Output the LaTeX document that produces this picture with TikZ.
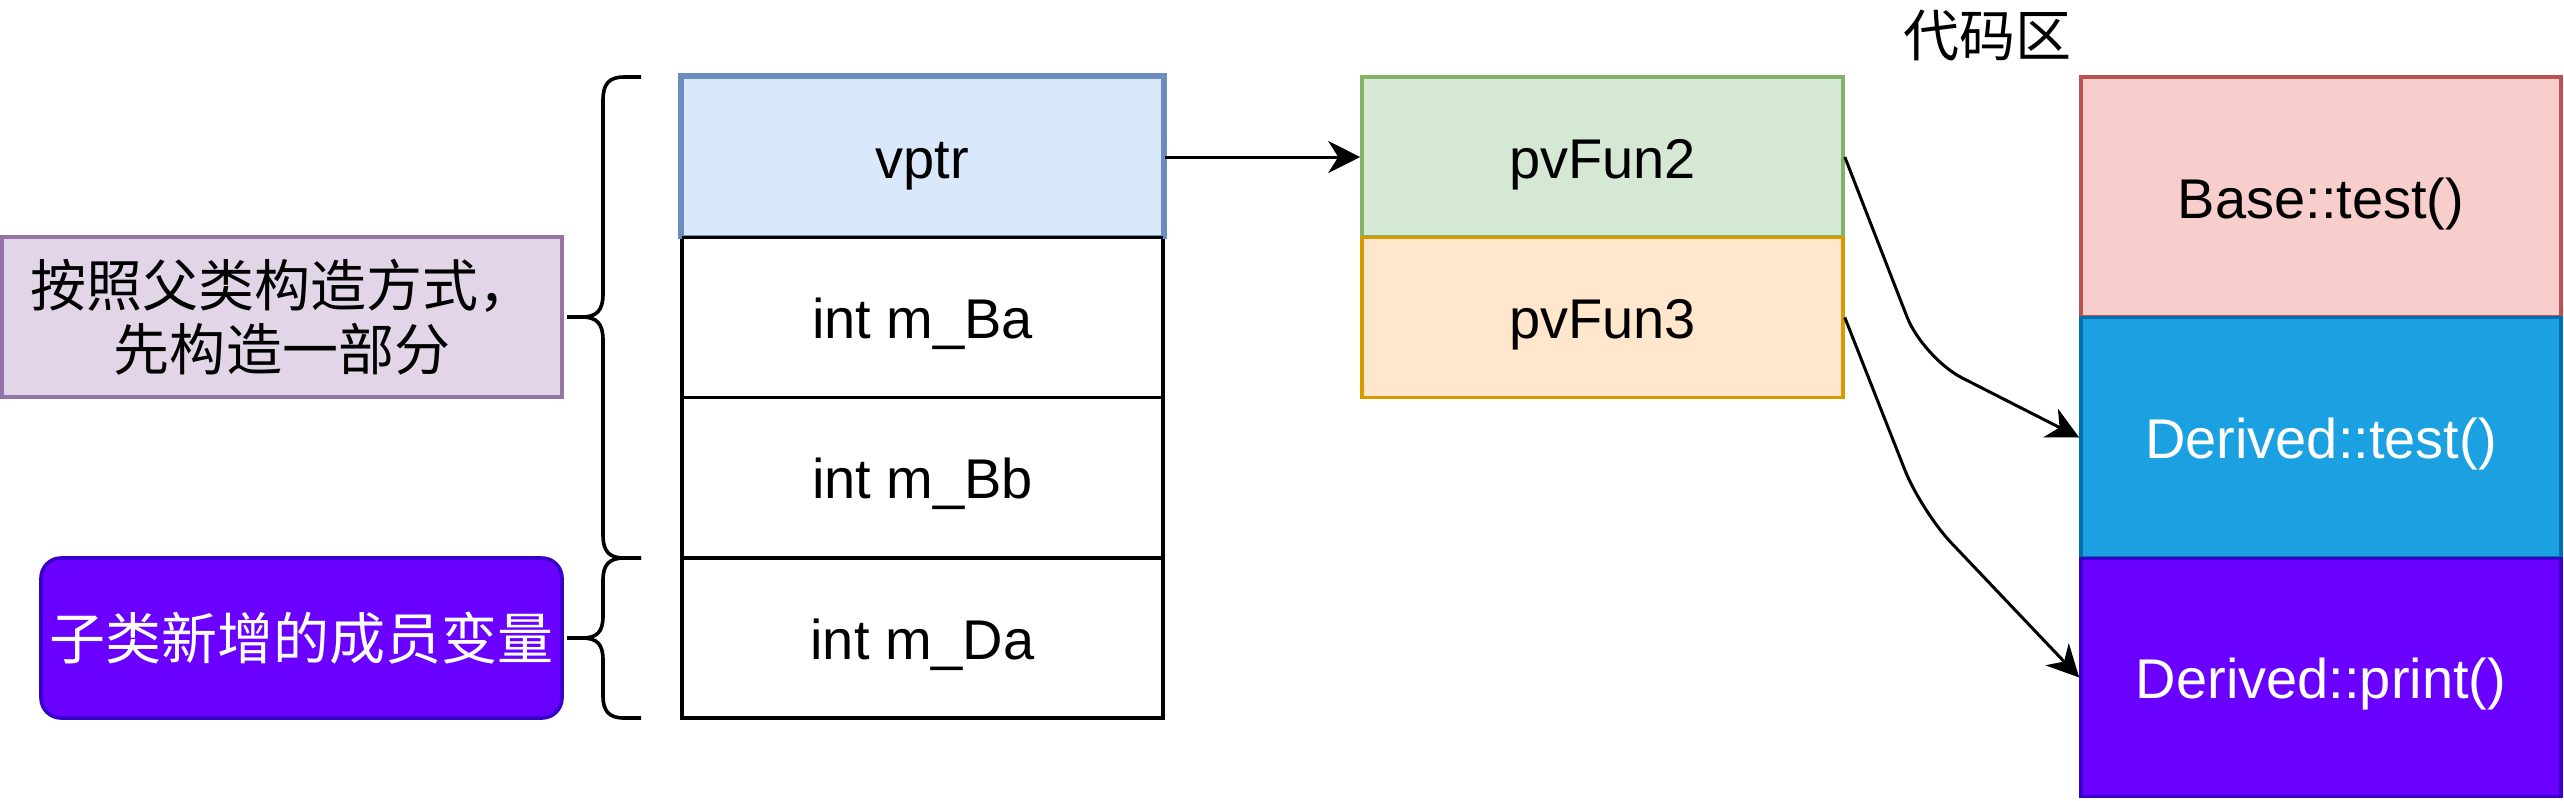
\documentclass[tikz,border=0pt]{standalone}
\usepackage{fontspec}
\setmainfont{Liberation Sans}
\newfontfamily\cjk{Noto Sans CJK SC}
\usetikzlibrary{arrows.meta}
\definecolor{vpf}{HTML}{DAE8FC}\definecolor{vps}{HTML}{6C8EBF}
\definecolor{grf}{HTML}{D5E8D4}\definecolor{grs}{HTML}{82B366}
\definecolor{orf}{HTML}{FFE6CC}\definecolor{ors}{HTML}{D79B00}
\definecolor{rdf}{HTML}{F8CECC}\definecolor{rds}{HTML}{B85450}
\definecolor{blf}{HTML}{1BA1E2}\definecolor{bls}{HTML}{006EAF}
\definecolor{vif}{HTML}{6A00FF}\definecolor{vis}{HTML}{3700CC}
\definecolor{lif}{HTML}{E1D5E7}\definecolor{lis}{HTML}{9673A6}
\tikzset{
  cell/.style={draw, line width=1.8pt, inner sep=0pt, minimum width=240.5pt, minimum height=80pt,
    text height=21pt, text depth=0pt, font=\fontsize{28}{34}\selectfont},
  codecell/.style={cell, minimum width=240pt, minimum height=120pt},
  arr/.style={line width=1.5pt, -{Stealth[length=16pt,width=16pt,inset=5pt]}},
  brace/.style={line width=1.8pt},
}
\begin{document}
\begin{tikzpicture}[x=0.5pt,y=-0.5pt]
\useasboundingbox (0,0) rectangle (2564,800);
% memory layout
\node[cell, fill=vpf, draw=vps] (vptr) at (922.5,157) {vptr};
\node[cell, fill=white, draw=black] (ba) at (922.5,317.5) {int m\_Ba};
\node[cell, fill=white, draw=black] (bb) at (922.5,477.5) {int m\_Bb};
\node[cell, fill=white, draw=black] (da) at (922.5,638) {int m\_Da};
\draw[vps, line width=1.8pt] (vptr.south west) -- (vptr.north west) -- (vptr.north east) -- (vptr.south east);
% vtable
\node[cell, fill=grf, draw=grs] (p2) at (1602.5,157) {pvFun2};
\node[cell, fill=orf, draw=ors] (p3) at (1602.5,317.5) {pvFun3};
% code area
\node[font=\cjk\fontsize{28}{34}\selectfont] (lbl) at (1987,36) {代码区};
\node[codecell, fill=rdf, draw=rds] (bt) at (2321,197) {Base::test()};
\node[codecell, fill=blf, draw=bls, text=white] (dt) at (2321,437.5) {Derived::test()};
\node[codecell, fill=vif, draw=vis, text=white, minimum height=119pt] (dp) at (2321,677.5) {Derived::print()};
% notes
\node[draw=lis, fill=lif, line width=1.8pt, minimum width=280pt, minimum height=80pt, inner sep=0pt,
  align=center, font=\cjk\fontsize{28}{32}\selectfont] (n1) at (282,317) {按照父类构造方式，\\先构造一部分};
\node[draw=vis, fill=vif, line width=1.8pt, rounded corners=10pt, minimum width=260.5pt, minimum height=80pt,
  inner sep=0pt, text=white, font=\cjk\fontsize{28}{34}\selectfont] (n2) at (301.5,638) {子类新增的成员变量};
% braces
\draw[brace] (641,77) -- (624,77) .. controls (609,77) and (603,84) .. (603,100) -- (603,294)
  .. controls (603,310) and (597,317) .. (582,317) -- (567,317)
  (582,317) .. controls (597,317) and (603,324) .. (603,340) -- (603,535)
  .. controls (603,551) and (609,558) .. (624,558) -- (641,558);
\draw[brace] (641,558) -- (624,558) .. controls (609,558) and (603,565) .. (603,580) -- (603,616)
  .. controls (603,632) and (597,638) .. (582,638) -- (567,638)
  (582,638) .. controls (597,638) and (603,644) .. (603,660) -- (603,696)
  .. controls (603,711) and (609,718) .. (624,718) -- (641,718);
% arrows
\coordinate (c1) at (1923,358);
\coordinate (c2) at (1921,511);
\draw[arr] (vptr.east) -- (p2.west);
\draw[arr, rounded corners=22pt] (p2.east) -- (c1) -- (dt.west);
\draw[arr, rounded corners=22pt] (p3.east) -- (c2) -- (dp.west);
\end{tikzpicture}
\end{document}
